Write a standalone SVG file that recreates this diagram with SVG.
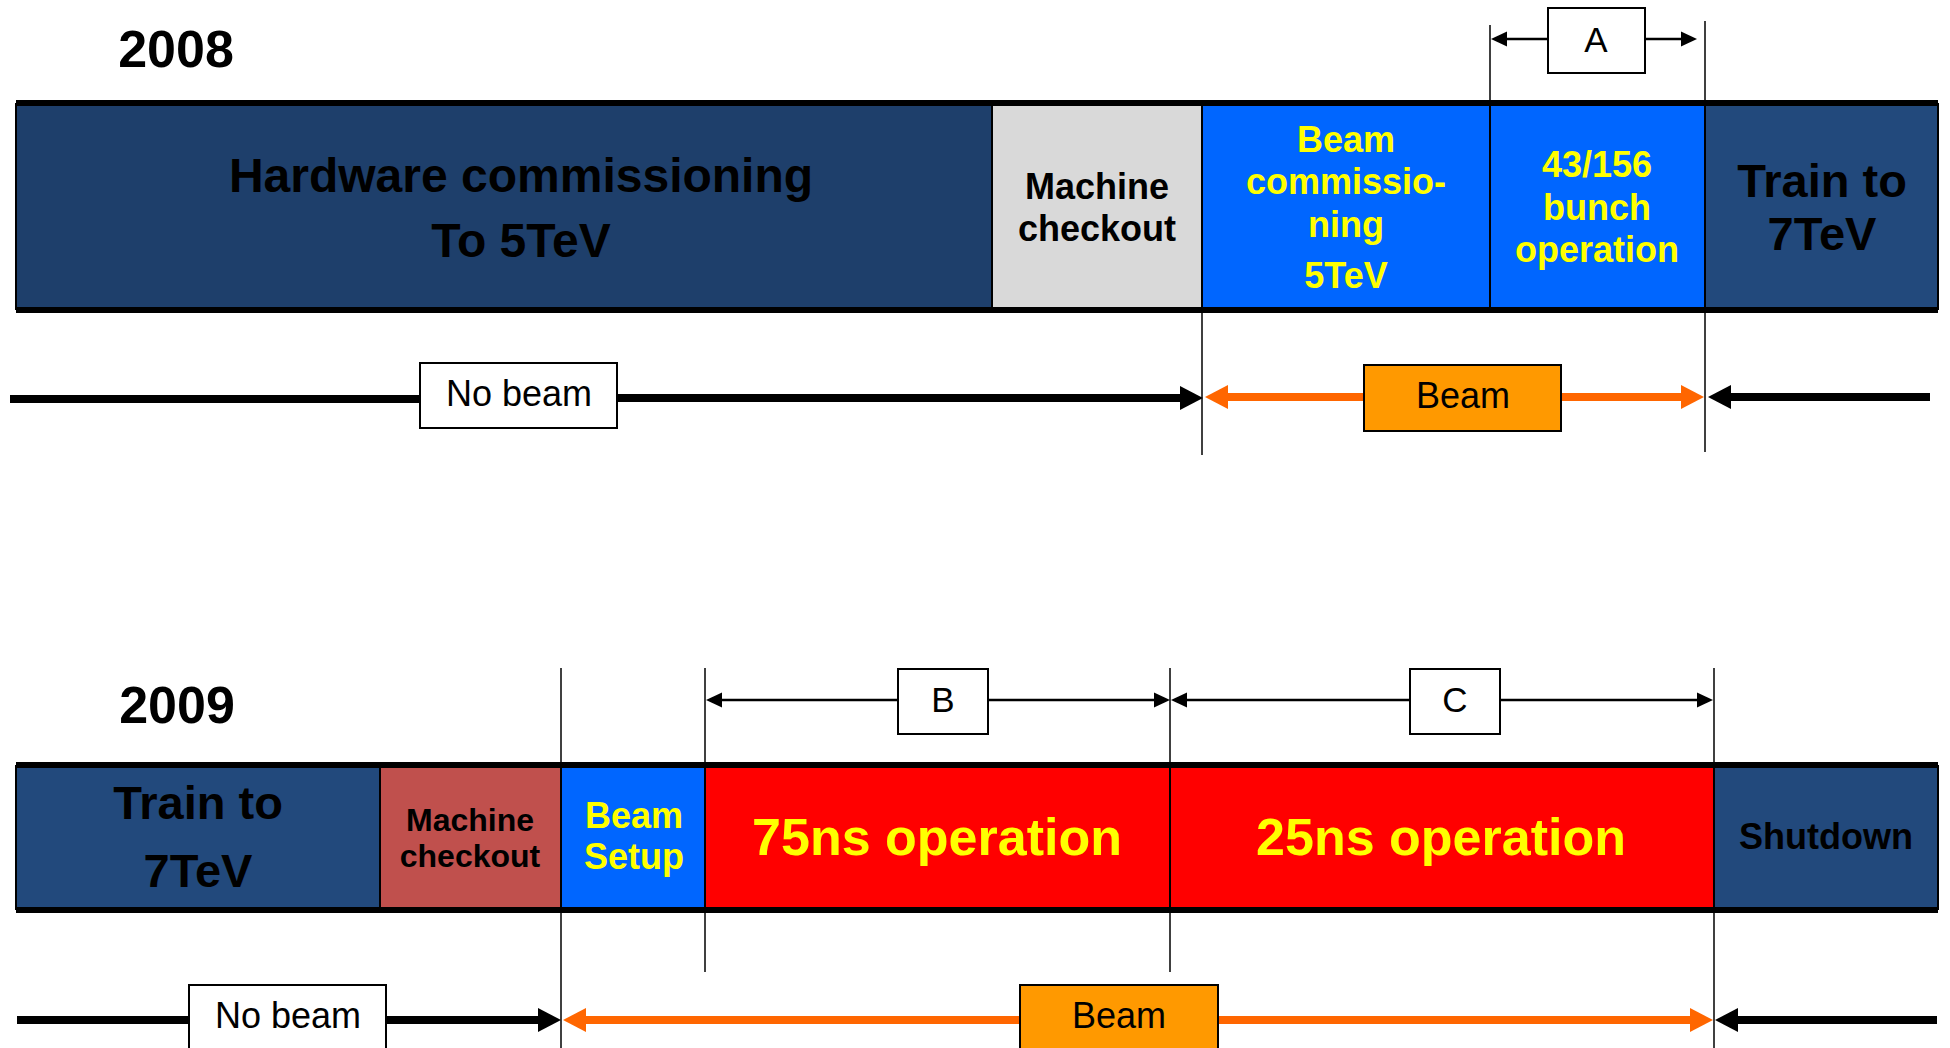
<svg xmlns="http://www.w3.org/2000/svg" width="1950" height="1048" viewBox="0 0 1950 1048">
<style>
  .b { font-family: "Liberation Sans", Arial, sans-serif; font-weight: bold; text-anchor: middle; }
  .r { font-family: "Liberation Sans", Arial, sans-serif; text-anchor: middle; }
  .yel { fill: #FFFF00; }
  .blk { fill: #000000; }
  .div { stroke: #000; stroke-width: 2; }
  .edge { stroke: #000; stroke-width: 6; }
  .vl { stroke: #000; stroke-width: 1.5; fill: none; }
  .dim { stroke: #000; stroke-width: 2.5; fill: none; }
  .tl { stroke: #000; stroke-width: 8; fill: none; }
  .tlo { stroke: #FF6600; stroke-width: 8; fill: none; }
  .lbl { fill: #FFFFFF; stroke: #000; stroke-width: 2; }
  .lblo { fill: #FF9900; stroke: #000; stroke-width: 2; }
  .navy1 { fill: #1E3F6B; }
  .navy2 { fill: #22497C; }
  .blue { fill: #0066FF; }
  .red { fill: #FF0000; }
</style>
<defs>
  <marker id="bigK" markerUnits="userSpaceOnUse" markerWidth="24" markerHeight="26" viewBox="0 -13 24 26" refX="0" refY="0" orient="auto" overflow="visible">
    <path d="M0,-12 L23,0 L0,12 z" fill="#000"/>
  </marker>
  <marker id="bigO" markerUnits="userSpaceOnUse" markerWidth="24" markerHeight="26" viewBox="0 -13 24 26" refX="0" refY="0" orient="auto" overflow="visible">
    <path d="M0,-12 L23,0 L0,12 z" fill="#FF6600"/>
  </marker>
  <marker id="thin" markerUnits="userSpaceOnUse" markerWidth="17" markerHeight="16" viewBox="0 -8 17 16" refX="0" refY="0" orient="auto" overflow="visible">
    <path d="M0,-7.5 L16,0 L0,7.5 z" fill="#000"/>
  </marker>
</defs>
<rect width="1950" height="1048" fill="#FFFFFF"/>

<text id="year2008" class="b blk" x="176" y="67" font-size="52">2008</text>
<text id="year2009" class="b blk" x="177" y="723" font-size="52">2009</text>

<!-- 2008 bar -->
<g id="bar2008">
  <g id="hw">
    <rect class="navy1" x="16" y="103" width="976" height="207"/>
    <text class="b blk" x="521" y="192" font-size="48">Hardware commissioning</text>
    <text class="b blk" x="521" y="257" font-size="48">To 5TeV</text>
  </g>
  <g id="mc2008">
    <rect fill="#D9D9D9" x="992" y="103" width="210" height="207"/>
    <text class="b blk" x="1097" y="199" font-size="36">Machine</text>
    <text class="b blk" x="1097" y="241" font-size="36">checkout</text>
  </g>
  <g id="bc2008">
    <rect class="blue" x="1202" y="103" width="288" height="207"/>
    <text class="b yel" x="1346" y="152" font-size="36">Beam</text>
    <text class="b yel" x="1346" y="194" font-size="36">commissio-</text>
    <text class="b yel" x="1346" y="237" font-size="36">ning</text>
    <text class="b yel" x="1346" y="288" font-size="36">5TeV</text>
  </g>
  <g id="bunch2008">
    <rect class="blue" x="1490" y="103" width="215" height="207"/>
    <text class="b yel" x="1597" y="177" font-size="36">43/156</text>
    <text class="b yel" x="1597" y="220" font-size="36">bunch</text>
    <text class="b yel" x="1597" y="262" font-size="36">operation</text>
  </g>
  <g id="train2008">
    <rect class="navy2" x="1705" y="103" width="233" height="207"/>
    <text class="b blk" x="1822" y="197" font-size="47">Train to</text>
    <text class="b blk" x="1822" y="250" font-size="47">7TeV</text>
  </g>
  <line class="div" x1="16" y1="103" x2="16" y2="310"/>
  <line class="div" x1="1938" y1="103" x2="1938" y2="310"/>
  <line class="div" x1="992" y1="103" x2="992" y2="310"/>
  <line class="div" x1="1202" y1="103" x2="1202" y2="310"/>
  <line class="div" x1="1490" y1="103" x2="1490" y2="310"/>
  <line class="div" x1="1705" y1="103" x2="1705" y2="310"/>
  <line class="edge" x1="16" y1="103" x2="1938" y2="103"/>
  <line class="edge" x1="16" y1="310" x2="1938" y2="310"/>
</g>

<!-- 2009 bar -->
<g id="bar2009">
  <g id="train2009">
    <rect class="navy2" x="16" y="765" width="364" height="145"/>
    <text class="b blk" x="198" y="819" font-size="47">Train to</text>
    <text class="b blk" x="198" y="887" font-size="47">7TeV</text>
  </g>
  <g id="mc2009">
    <rect fill="#C0504D" x="380" y="765" width="181" height="145"/>
    <text class="b blk" x="470" y="831" font-size="32">Machine</text>
    <text class="b blk" x="470" y="867" font-size="32">checkout</text>
  </g>
  <g id="setup2009">
    <rect class="blue" x="561" y="765" width="144" height="145"/>
    <text class="b yel" x="634" y="828" font-size="36">Beam</text>
    <text class="b yel" x="634" y="869" font-size="36">Setup</text>
  </g>
  <g id="op75">
    <rect class="red" x="705" y="765" width="465" height="145"/>
    <text class="b yel" x="937" y="855" font-size="52">75ns operation</text>
  </g>
  <g id="op25">
    <rect class="red" x="1170" y="765" width="544" height="145"/>
    <text class="b yel" x="1441" y="855" font-size="52">25ns operation</text>
  </g>
  <g id="shutdown">
    <rect class="navy2" x="1714" y="765" width="224" height="145"/>
    <text class="b blk" x="1826" y="849" font-size="36">Shutdown</text>
  </g>
  <line class="div" x1="16" y1="765" x2="16" y2="910"/>
  <line class="div" x1="1938" y1="765" x2="1938" y2="910"/>
  <line class="div" x1="380" y1="765" x2="380" y2="910"/>
  <line class="div" x1="561" y1="765" x2="561" y2="910"/>
  <line class="div" x1="705" y1="765" x2="705" y2="910"/>
  <line class="div" x1="1170" y1="765" x2="1170" y2="910"/>
  <line class="div" x1="1714" y1="765" x2="1714" y2="910"/>
  <line class="edge" x1="16" y1="765" x2="1938" y2="765"/>
  <line class="edge" x1="16" y1="910" x2="1938" y2="910"/>
</g>

<!-- connectors -->
<g id="connectors">
  <!-- 2008 guide lines -->
  <line class="vl" x1="1490" y1="25" x2="1490" y2="103"/>
  <line class="vl" x1="1705" y1="21" x2="1705" y2="452"/>
  <line class="vl" x1="1202" y1="310" x2="1202" y2="455"/>
  <!-- A dimension -->
  <line class="dim" x1="1548" y1="39" x2="1507" y2="39" marker-end="url(#thin)"/>
  <line class="dim" x1="1645" y1="39" x2="1681" y2="39" marker-end="url(#thin)"/>
  <!-- 2008 timeline -->
  <line class="tl" x1="10" y1="399" x2="420" y2="399"/>
  <line class="tl" x1="617" y1="398" x2="1180" y2="398" marker-end="url(#bigK)"/>
  <line class="tlo" x1="1364" y1="397" x2="1228" y2="397" marker-end="url(#bigO)"/>
  <line class="tlo" x1="1561" y1="397" x2="1681" y2="397" marker-end="url(#bigO)"/>
  <line class="tl" x1="1930" y1="397" x2="1731" y2="397" marker-end="url(#bigK)"/>

  <!-- 2009 guide lines -->
  <line class="vl" x1="561" y1="668" x2="561" y2="1048"/>
  <line class="vl" x1="705" y1="668" x2="705" y2="972"/>
  <line class="vl" x1="1170" y1="668" x2="1170" y2="972"/>
  <line class="vl" x1="1714" y1="668" x2="1714" y2="1048"/>
  <!-- B and C dimensions -->
  <line class="dim" x1="898" y1="700" x2="722" y2="700" marker-end="url(#thin)"/>
  <line class="dim" x1="988" y1="700" x2="1154" y2="700" marker-end="url(#thin)"/>
  <line class="dim" x1="1410" y1="700" x2="1187" y2="700" marker-end="url(#thin)"/>
  <line class="dim" x1="1500" y1="700" x2="1697" y2="700" marker-end="url(#thin)"/>
  <!-- 2009 timeline -->
  <line class="tl" x1="17" y1="1020" x2="189" y2="1020"/>
  <line class="tl" x1="386" y1="1020" x2="538" y2="1020" marker-end="url(#bigK)"/>
  <line class="tlo" x1="1020" y1="1020" x2="586" y2="1020" marker-end="url(#bigO)"/>
  <line class="tlo" x1="1218" y1="1020" x2="1690" y2="1020" marker-end="url(#bigO)"/>
  <line class="tl" x1="1937" y1="1020" x2="1738" y2="1020" marker-end="url(#bigK)"/>
</g>

<!-- labels -->
<g id="labelA">
  <rect class="lbl" x="1548" y="8" width="97" height="65"/>
  <text class="r blk" x="1596" y="52" font-size="35">A</text>
</g>
<g id="labelB">
  <rect class="lbl" x="898" y="669" width="90" height="65"/>
  <text class="r blk" x="943" y="712" font-size="35">B</text>
</g>
<g id="labelC">
  <rect class="lbl" x="1410" y="669" width="90" height="65"/>
  <text class="r blk" x="1455" y="712" font-size="35">C</text>
</g>
<g id="nobeam2008">
  <rect class="lbl" x="420" y="363" width="197" height="65"/>
  <text class="r blk" x="519" y="406" font-size="36">No beam</text>
</g>
<g id="beam2008">
  <rect class="lblo" x="1364" y="365" width="197" height="66"/>
  <text class="r blk" x="1463" y="408" font-size="36">Beam</text>
</g>
<g id="nobeam2009">
  <rect class="lbl" x="189" y="985" width="197" height="80"/>
  <text class="r blk" x="288" y="1028" font-size="36">No beam</text>
</g>
<g id="beam2009">
  <rect class="lblo" x="1020" y="985" width="198" height="80"/>
  <text class="r blk" x="1119" y="1028" font-size="36">Beam</text>
</g>
</svg>
